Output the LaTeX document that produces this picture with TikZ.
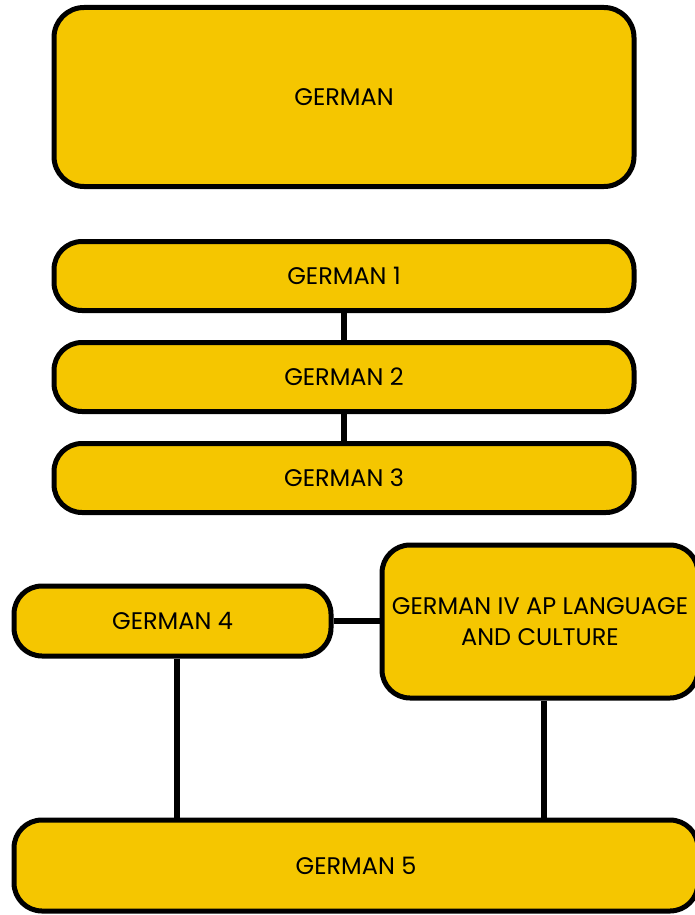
\documentclass[tikz,border=0pt]{standalone}
\usepackage{fontspec}
\setmainfont{Poppins}
\usetikzlibrary{positioning,calc}

\definecolor{courseyellow}{HTML}{F5C600}

\tikzset{
  course/.style={draw=black, line width=5pt, fill=courseyellow, rounded corners=28pt,
    align=center, font=\fontsize{24}{31}\selectfont, inner sep=0pt},
  link/.style={line width=6pt, black}
}

\begin{document}
\begin{tikzpicture}[x=1pt, y=-1pt]

\useasboundingbox (0,0) rectangle (694,915);

% Top level
\node[course, rounded corners=30pt, minimum width=580pt, minimum height=179pt] (german) at (344,97) {GERMAN};

% First three years
\node[course, minimum width=580pt, minimum height=69pt] (g1) at (344,276) {GERMAN 1};
\node[course, minimum width=580pt, minimum height=69pt] (g2) at (344,377) {GERMAN 2};
\node[course, minimum width=580pt, minimum height=69pt] (g3) at (344,478) {GERMAN 3};

% Fourth year options
\node[course, minimum width=317pt, minimum height=70pt] (g4) at (172.5,621) {GERMAN 4};
\node[course, minimum width=316pt, minimum height=153pt] (ap) at (540,621.5) {GERMAN IV AP LANGUAGE\\AND CULTURE};

% Last year
\node[course, minimum width=684pt, minimum height=91pt] (g5) at (356,865.5) {GERMAN 5};

% Connectors
\draw[link] (g1) -- (g2);
\draw[link] (g2) -- (g3);
\draw[link] (g4.east) -- (g4.east -| ap.west);
\draw[link] ([xshift=4.5pt]g4.south) -- ([xshift=4.5pt]g4.south |- g5.north);
\draw[link] ([xshift=4pt]ap.south) -- ([xshift=4pt]ap.south |- g5.north);

\end{tikzpicture}
\end{document}
